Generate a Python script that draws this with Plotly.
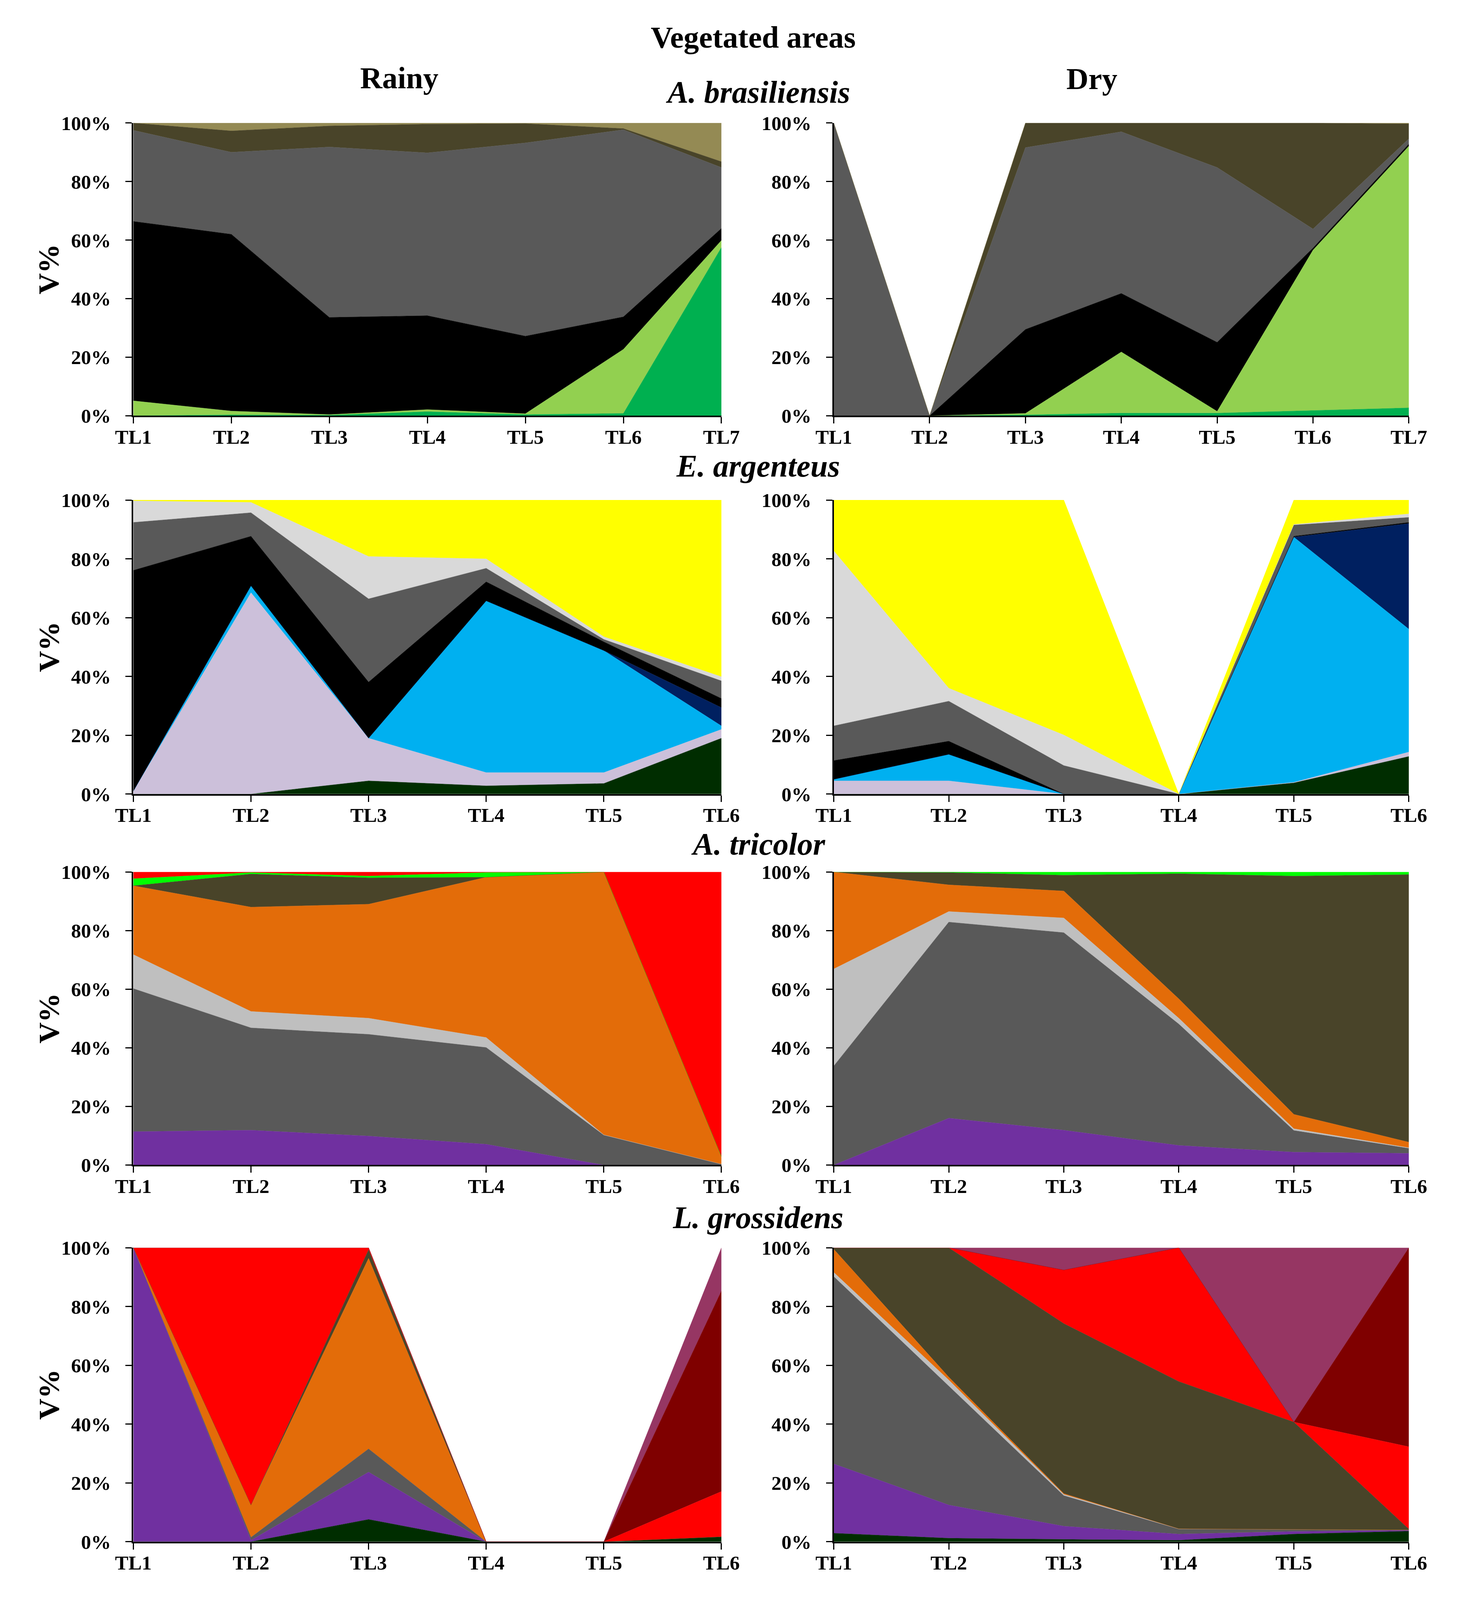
import plotly.graph_objects as go

# ---------------------------------------------------------------
# categorias (tramos)
# ---------------------------------------------------------------
TL7 = ["TL1", "TL2", "TL3", "TL4", "TL5", "TL6", "TL7"]
TL6 = ["TL1", "TL2", "TL3", "TL4", "TL5", "TL6"]
Y_TICKS = [0, 20, 40, 60, 80, 100]
Y_TEXT = ["0%", "20%", "40%", "60%", "80%", "100%"]

# ---------------------------------------------------------------
# A. brasiliensis (V%, capas de abajo hacia arriba)
# ---------------------------------------------------------------
abr_rainy_green = [0, 0.3, 0.2, 1.4, 0.4, 0.8, 57.5]
abr_rainy_lime = [5.1, 1.3, 0.2, 0.7, 0.3, 21.9, 2.4]
abr_rainy_black = [61.3, 60.4, 33.2, 32.1, 26.5, 11.1, 4.1]
abr_rainy_gray = [31.1, 28.0, 58.2, 55.6, 66.0, 63.9, 20.8]
abr_rainy_olive = [2.5, 7.3, 7.2, 9.8, 6.6, 0.4, 2.0]
abr_rainy_khaki = [0, 2.7, 1.0, 0.4, 0.2, 1.9, 13.2]

abr_dry_green = [0, 0, 0.3, 0.9, 0.9, 1.8, 2.7]
abr_dry_lime = [0, 0, 0.5, 20.9, 0.6, 54.8, 89.4]
abr_dry_black = [0, 0, 28.7, 20.0, 23.6, 0.7, 0.7]
abr_dry_gray = [100, 0, 62.1, 55.2, 59.7, 6.5, 1.8]
abr_dry_olive = [0, 0, 8.4, 3.0, 15.2, 36.2, 5.1]
abr_dry_khaki = [0, 0, 0, 0, 0, 0, 0.3]

# ---------------------------------------------------------------
# E. argenteus
# ---------------------------------------------------------------
ear_rainy_forest = [0, 0, 4.5, 2.8, 3.6, 19.0]
ear_rainy_lilac = [1.0, 68.5, 14.5, 4.5, 3.7, 3.0]
ear_rainy_sky = [0, 2.3, 0, 58.4, 41.5, 1.2]
ear_rainy_navy = [0, 0, 0, 0, 0, 6.2]
ear_rainy_black = [75.1, 16.9, 19.1, 6.5, 3.0, 3.1]
ear_rainy_gray = [16.3, 8.0, 28.3, 4.6, 0.8, 6.0]
ear_rainy_silver = [7.3, 3.5, 14.4, 3.2, 0.9, 1.4]
ear_rainy_yellow = [0.3, 0.8, 19.2, 20.0, 46.5, 60.1]

ear_dry_forest = [0, 0, 0, 0, 3.8, 12.8]
ear_dry_lilac = [4.5, 4.5, 0, 0, 0.2, 1.5]
ear_dry_sky = [0.5, 9.0, 0, 0, 83.4, 41.8]
ear_dry_navy = [0, 0, 0, 0, 0, 35.9]
ear_dry_black = [6.4, 4.5, 0, 0, 0.3, 0.4]
ear_dry_gray = [11.8, 13.6, 9.7, 0, 3.8, 1.7]
ear_dry_silver = [59.5, 4.4, 10.4, 0, 0.2, 1.2]
ear_dry_yellow = [17.3, 64.0, 79.9, 0, 8.3, 4.7]

# ---------------------------------------------------------------
# A. tricolor
# ---------------------------------------------------------------
atr_rainy_purple = [11.4, 11.9, 9.9, 7.1, 0, 0]
atr_rainy_gray = [48.8, 34.9, 34.7, 33.0, 10.2, 0.3]
atr_rainy_silver = [11.6, 5.6, 5.5, 3.4, 0.1, 0]
atr_rainy_orange = [23.5, 35.6, 38.9, 54.7, 89.7, 2.6]
atr_rainy_olive = [0, 11.3, 9.0, 0, 0, 0]
atr_rainy_lime = [2.4, 0.5, 0.6, 1.6, 0, 0]
atr_rainy_red = [2.3, 0.2, 1.4, 0.2, 0, 97.1]

atr_dry_purple = [0, 16.0, 11.9, 6.7, 4.4, 4.0]
atr_dry_gray = [33.8, 66.9, 67.4, 41.4, 7.4, 1.7]
atr_dry_silver = [33.1, 3.6, 5.0, 2.0, 0.6, 0.2]
atr_dry_orange = [33.1, 9.1, 9.2, 6.6, 4.9, 1.9]
atr_dry_olive = [0, 4.2, 5.4, 42.7, 81.3, 91.3]
atr_dry_lime = [0, 0.2, 1.1, 0.6, 1.4, 0.9]

# ---------------------------------------------------------------
# L. grossidens
# ---------------------------------------------------------------
lgr_rainy_forest = [0, 0, 7.6, 0, 0, 1.7]
lgr_rainy_purple = [100, 0.5, 16.1, 0, 0, 0]
lgr_rainy_gray = [0, 1.0, 7.9, 0, 0, 0]
lgr_rainy_orange = [0, 11.0, 64.8, 0, 0, 0]
lgr_rainy_olive = [0, 0, 2.9, 0, 0, 0]
lgr_rainy_red = [0, 87.5, 0.7, 0, 0, 15.4]
lgr_rainy_maroon = [0, 0, 0, 0, 0, 68.2]
lgr_rainy_mauve = [0, 0, 0, 0, 0, 14.7]

lgr_dry_forest = [2.9, 1.2, 0.8, 0.5, 2.6, 3.6]
lgr_dry_purple = [23.6, 11.3, 4.5, 2.1, 0.9, 0.3]
lgr_dry_gray = [63.7, 40.5, 10.4, 1.7, 0.7, 0.1]
lgr_dry_silver = [1.4, 2.0, 0.4, 0.1, 0, 0]
lgr_dry_orange = [7.9, 1.0, 0.3, 0, 0, 0]
lgr_dry_olive = [0.5, 44.0, 57.8, 50.1, 36.5, 0.3]
lgr_dry_red = [0, 0, 18.2, 45.5, 0, 28.0]
lgr_dry_maroon = [0, 0, 0, 0, 0, 67.7]
lgr_dry_mauve = [0, 0, 7.6, 0, 59.3, 0]

# colores (estilo Excel)
GREEN = "#00B050"
LIME = "#92D050"
BLACK = "#000000"
GRAY = "#595959"
OLIVE = "#494429"
KHAKI = "#948A54"
FOREST = "#002D00"
LILAC = "#CCC0DA"
SKY = "#00B0F0"
NAVY = "#002060"
LTGRAY = "#D9D9D9"
SILVER = "#BFBFBF"
YELLOW = "#FFFF00"
PURPLE = "#7030A0"
ORANGE = "#E36C09"
NEON = "#00FF00"
RED = "#FF0000"
MAROON = "#7F0000"
MAUVE = "#963663"

# (fila, columna, categorias, capas)
panels = [
    (0, 0, TL7, [(abr_rainy_green, GREEN), (abr_rainy_lime, LIME), (abr_rainy_black, BLACK),
                 (abr_rainy_gray, GRAY), (abr_rainy_olive, OLIVE), (abr_rainy_khaki, KHAKI)]),
    (0, 1, TL7, [(abr_dry_green, GREEN), (abr_dry_lime, LIME), (abr_dry_black, BLACK),
                 (abr_dry_gray, GRAY), (abr_dry_olive, OLIVE), (abr_dry_khaki, KHAKI)]),
    (1, 0, TL6, [(ear_rainy_forest, FOREST), (ear_rainy_lilac, LILAC), (ear_rainy_sky, SKY),
                 (ear_rainy_navy, NAVY), (ear_rainy_black, BLACK), (ear_rainy_gray, GRAY),
                 (ear_rainy_silver, LTGRAY), (ear_rainy_yellow, YELLOW)]),
    (1, 1, TL6, [(ear_dry_forest, FOREST), (ear_dry_lilac, LILAC), (ear_dry_sky, SKY),
                 (ear_dry_navy, NAVY), (ear_dry_black, BLACK), (ear_dry_gray, GRAY),
                 (ear_dry_silver, LTGRAY), (ear_dry_yellow, YELLOW)]),
    (2, 0, TL6, [(atr_rainy_purple, PURPLE), (atr_rainy_gray, GRAY), (atr_rainy_silver, SILVER),
                 (atr_rainy_orange, ORANGE), (atr_rainy_olive, OLIVE), (atr_rainy_lime, NEON),
                 (atr_rainy_red, RED)]),
    (2, 1, TL6, [(atr_dry_purple, PURPLE), (atr_dry_gray, GRAY), (atr_dry_silver, SILVER),
                 (atr_dry_orange, ORANGE), (atr_dry_olive, OLIVE), (atr_dry_lime, NEON)]),
    (3, 0, TL6, [(lgr_rainy_forest, FOREST), (lgr_rainy_purple, PURPLE), (lgr_rainy_gray, GRAY),
                 (lgr_rainy_orange, ORANGE), (lgr_rainy_olive, OLIVE), (lgr_rainy_red, RED),
                 (lgr_rainy_maroon, MAROON), (lgr_rainy_mauve, MAUVE)]),
    (3, 1, TL6, [(lgr_dry_forest, FOREST), (lgr_dry_purple, PURPLE), (lgr_dry_gray, GRAY),
                 (lgr_dry_silver, SILVER), (lgr_dry_orange, ORANGE), (lgr_dry_olive, OLIVE),
                 (lgr_dry_red, RED), (lgr_dry_maroon, MAROON), (lgr_dry_mauve, MAUVE)]),
]

# tamano de referencia (solo para pasar pixeles a fracciones del papel)
W, H = 3766, 4942
FONT = "Liberation Serif"

x_px = [(302, 1846), (2141, 3651)]
y_px = [(351, 1268), (1532, 2453), (2697, 3615), (3874, 4795)]
x_dom = [[a / W, b / W] for a, b in x_px]
y_dom = [[1 - b / H, 1 - a / H] for a, b in y_px]

fig = go.Figure()

for i, (row, col, cats, layers) in enumerate(panels):
    k = i + 1
    sfx = "" if k == 1 else str(k)
    xs = list(range(len(cats)))
    for vals, color in layers:
        fig.add_trace(go.Scatter(
            x=xs, y=vals, mode="lines",
            line=dict(width=0.6, color=color),
            fillcolor=color, stackgroup=f"g{k}",
            xaxis="x" + sfx, yaxis="y" + sfx,
            hoverinfo="skip", showlegend=False,
        ))
    fig.layout["xaxis" + sfx] = dict(
        domain=x_dom[col], anchor="y" + sfx,
        range=[0, len(cats) - 1], tickmode="array", tickvals=xs, ticktext=cats,
        showline=True, linecolor="black", linewidth=4,
        ticks="outside", ticklen=16, tickwidth=3, tickcolor="black",
        showgrid=False, zeroline=False, ticklabelstandoff=-12,
        tickfont=dict(family=FONT, size=60, color="black", weight="bold"),
    )
    fig.layout["yaxis" + sfx] = dict(
        domain=y_dom[row], anchor="x" + sfx,
        range=[0, 100], tickmode="array", tickvals=Y_TICKS, ticktext=Y_TEXT,
        showline=True, linecolor="black", linewidth=4,
        ticks="outside", ticklen=16, tickwidth=3, tickcolor="black",
        showgrid=False, zeroline=False, ticklabelstandoff=32,
        tickfont=dict(family=FONT, size=60, color="black", weight="bold"),
    )

annotations = []


def add_text(text, xp, yp, size, italic=False, angle=0):
    annotations.append(dict(
        text=text, x=xp / W, y=1 - yp / H, xref="paper", yref="paper",
        showarrow=False, xanchor="center", yanchor="middle", textangle=angle,
        font=dict(family=FONT, size=size, color="black", weight="bold",
                  style="italic" if italic else "normal"),
    ))


add_text("Vegetated areas", 1930, 82, 92)
add_text("Rainy", 1000, 210, 92)
add_text("Dry", 2819, 212, 92)
for name, yp in [("A. brasiliensis", 254), ("E. argenteus", 1426),
                 ("A. tricolor", 2610), ("L. grossidens", 3780)]:
    add_text(name, 1942, yp, 94, italic=True)
for a, b in y_px:
    add_text("V%", 80, (a + b) / 2, 88, angle=-90)

fig.update_layout(
    autosize=True,
    margin=dict(l=0, r=0, t=0, b=0, pad=0),
    paper_bgcolor="white", plot_bgcolor="white",
    annotations=annotations,
    showlegend=False,
)

# la figura ocupa toda la ventana; si la ventana es mas baja que la
# referencia (4942 px) los textos se reducen un poco
fit_js = """
document.body.style.margin = '0';
document.body.style.overflow = 'hidden';
var gd = document.getElementById('{plot_id}');
gd.style.width = '100vw';
gd.style.height = '100vh';
Plotly.Plots.resize(gd).then(function () {
  var r = Math.min(1, window.innerHeight / 4942);
  if (r > 0.995) { return; }
  var s = Math.pow(r, 0.85);
  var u = {};
  Object.keys(gd.layout).forEach(function (k) {
    if (/^[xy]axis[0-9]*$/.test(k) && gd.layout[k].tickfont) {
      u[k + '.tickfont.size'] = gd.layout[k].tickfont.size * s;
      u[k + '.ticklabelstandoff'] = Math.round(gd.layout[k].ticklabelstandoff * r);
    }
  });
  (gd.layout.annotations || []).forEach(function (a, i) {
    u['annotations[' + i + '].font.size'] = a.font.size * s;
  });
  Plotly.relayout(gd, u);
});
"""

fig.write_html("out.html", default_width="100vw", default_height="100vh",
               config={"responsive": True, "displayModeBar": False},
               post_script=fit_js)
